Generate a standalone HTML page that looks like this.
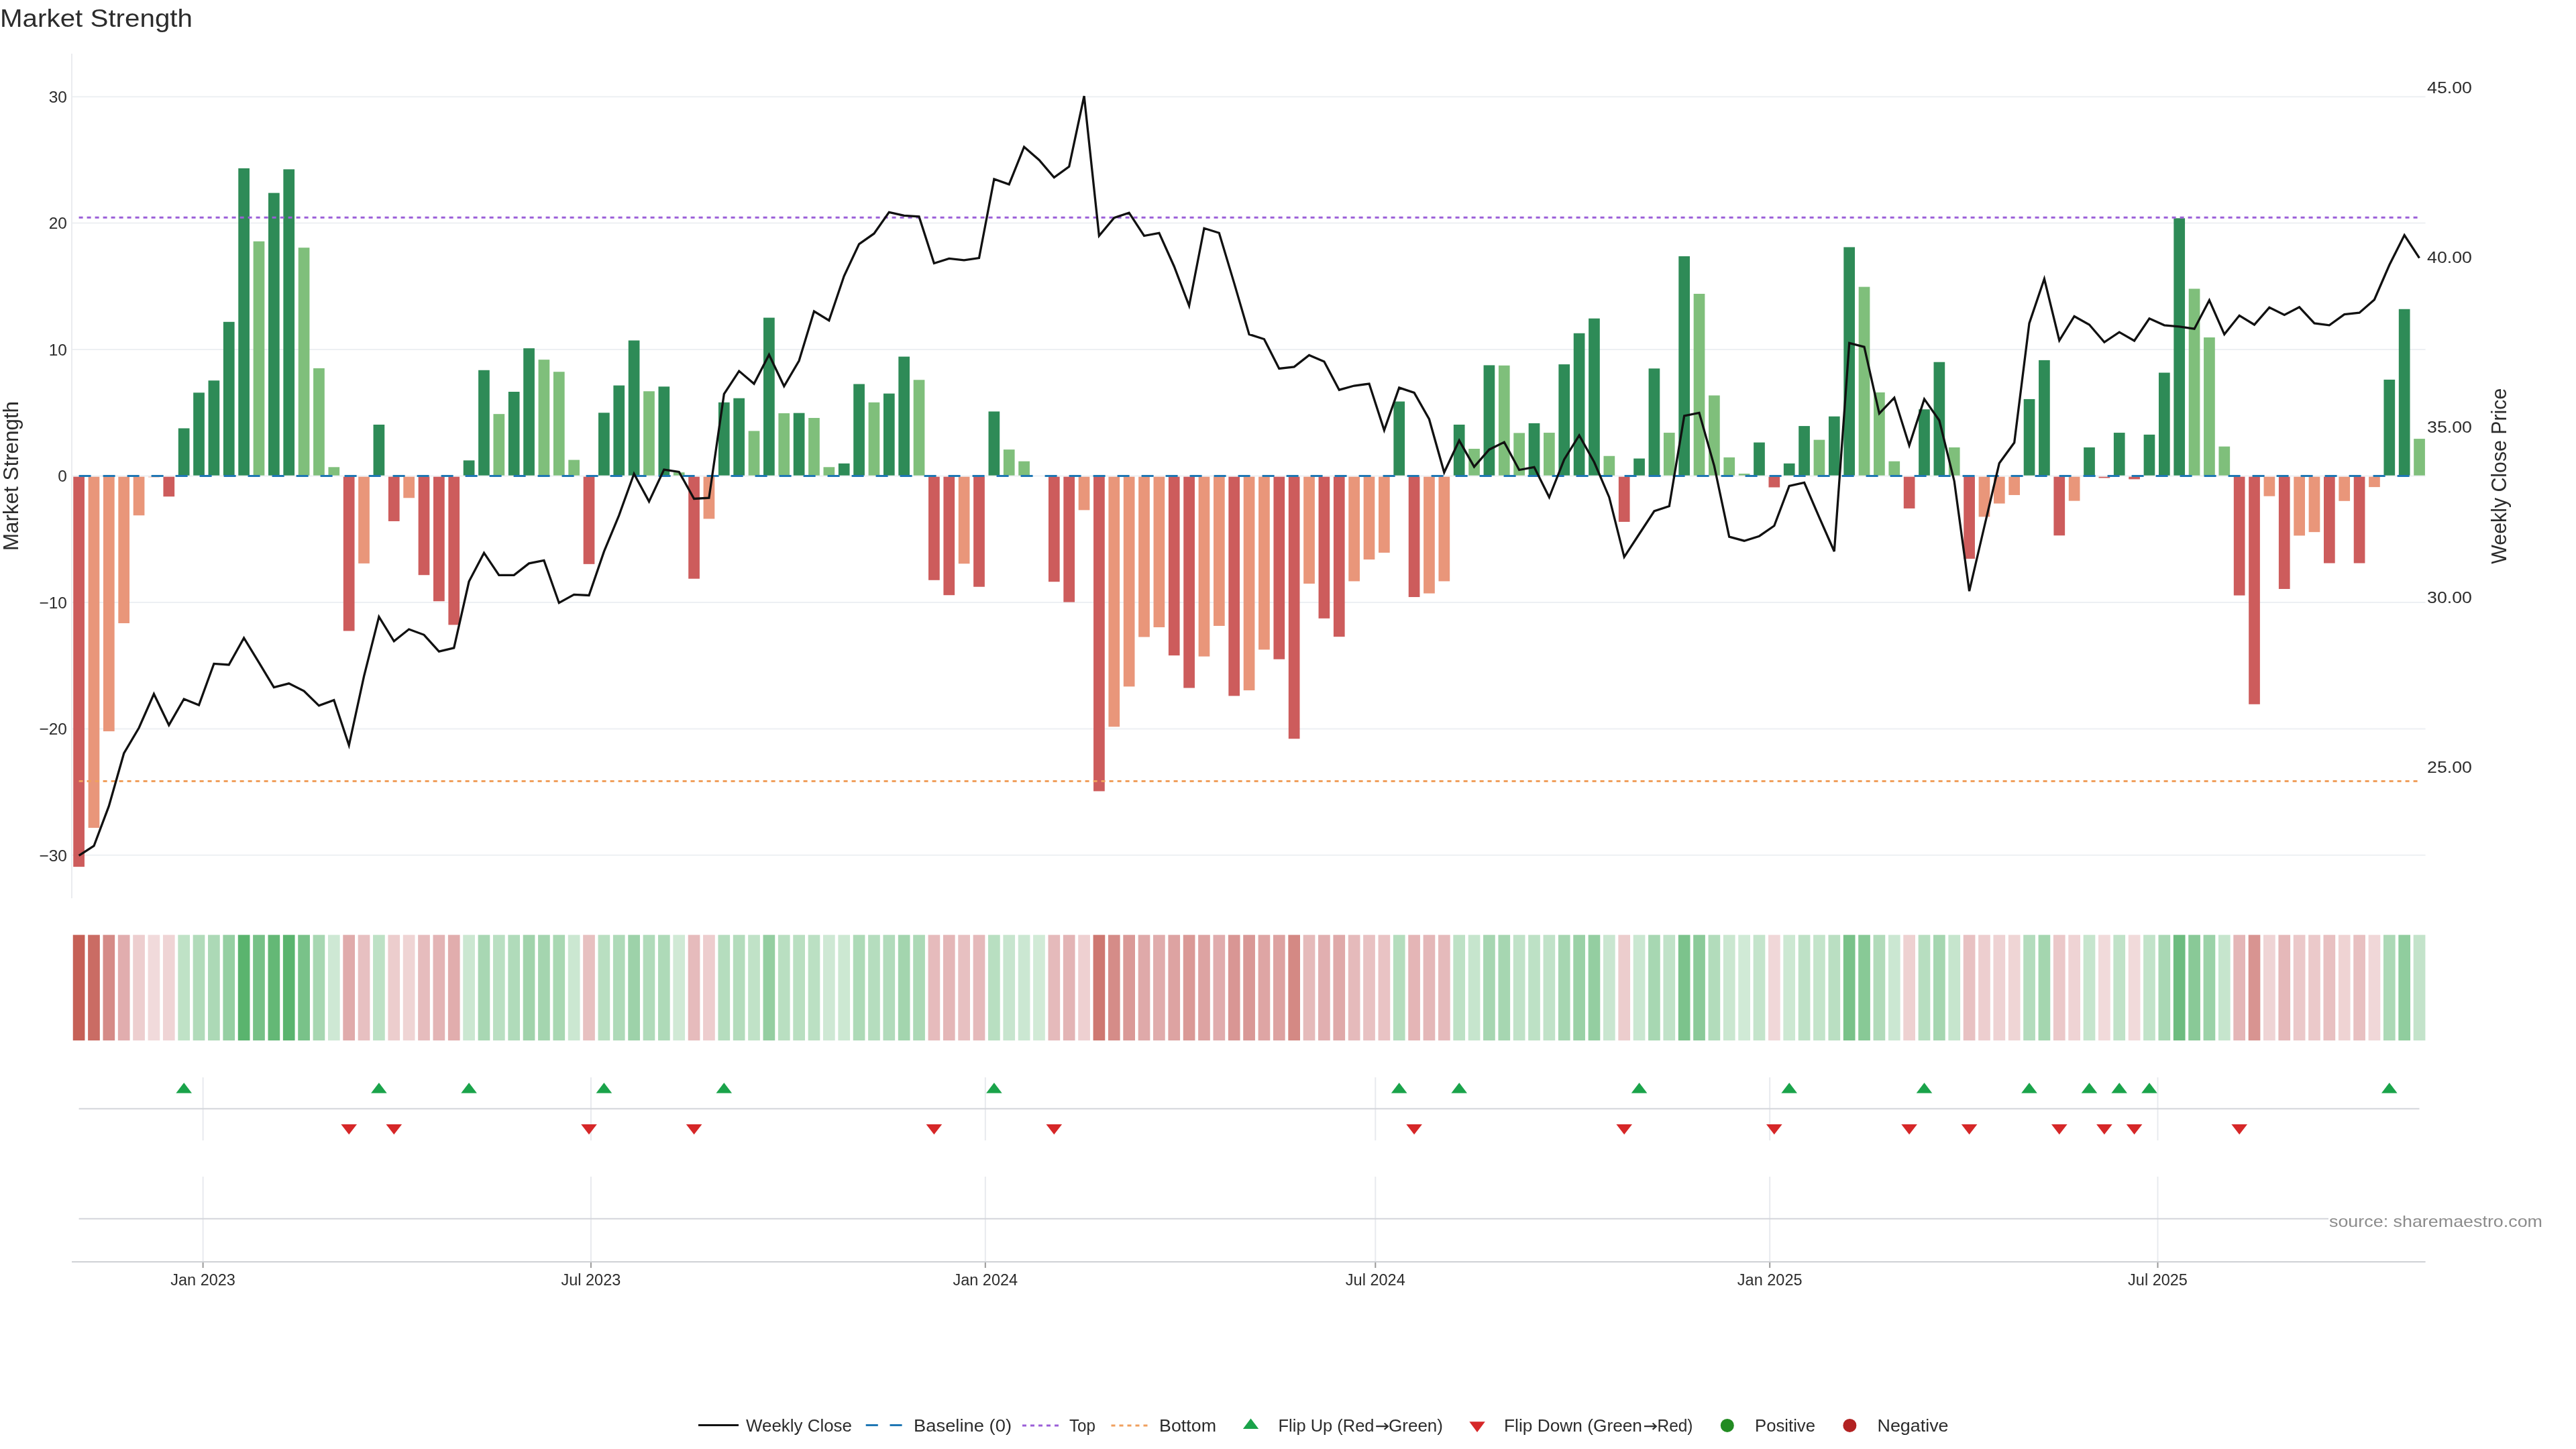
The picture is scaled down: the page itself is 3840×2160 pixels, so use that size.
<!DOCTYPE html><html><head><meta charset="utf-8"><title>Market Strength</title>
<style>html,body{margin:0;padding:0;background:#fff;width:3840px;height:2160px;overflow:hidden}svg{display:block;will-change:transform}text{font-family:"Liberation Sans",sans-serif;fill:#2c2c2c}</style></head><body>
<svg width="3840" height="2160" viewBox="0 0 3840 2160">
<rect x="0" y="0" width="3840" height="2160" fill="#fff"/>
<text x="0" y="40" font-size="37" textLength="287" lengthAdjust="spacingAndGlyphs">Market Strength</text>
<line x1="107.0" y1="144.2" x2="3615.6" y2="144.2" stroke="#edf0f3" stroke-width="2"/>
<line x1="107.0" y1="332.6" x2="3615.6" y2="332.6" stroke="#edf0f3" stroke-width="2"/>
<line x1="107.0" y1="521.1" x2="3615.6" y2="521.1" stroke="#edf0f3" stroke-width="2"/>
<line x1="107.0" y1="709.5" x2="3615.6" y2="709.5" stroke="#edf0f3" stroke-width="2"/>
<line x1="107.0" y1="897.9" x2="3615.6" y2="897.9" stroke="#edf0f3" stroke-width="2"/>
<line x1="107.0" y1="1086.4" x2="3615.6" y2="1086.4" stroke="#edf0f3" stroke-width="2"/>
<line x1="107.0" y1="1274.8" x2="3615.6" y2="1274.8" stroke="#edf0f3" stroke-width="2"/>
<line x1="107.0" y1="80.0" x2="107.0" y2="1339.0" stroke="#eaecef" stroke-width="2"/>
<text x="100" y="153.0" font-size="24.5" text-anchor="end">30</text>
<text x="100" y="341.4" font-size="24.5" text-anchor="end">20</text>
<text x="100" y="529.9" font-size="24.5" text-anchor="end">10</text>
<text x="100" y="718.3" font-size="24.5" text-anchor="end">0</text>
<text x="100" y="906.7" font-size="24.5" text-anchor="end">−10</text>
<text x="100" y="1095.2" font-size="24.5" text-anchor="end">−20</text>
<text x="100" y="1283.6" font-size="24.5" text-anchor="end">−30</text>
<text x="3618" y="139.3" font-size="24.5" textLength="67" lengthAdjust="spacingAndGlyphs">45.00</text>
<text x="3618" y="392.1" font-size="24.5" textLength="67" lengthAdjust="spacingAndGlyphs">40.00</text>
<text x="3618" y="644.7" font-size="24.5" textLength="67" lengthAdjust="spacingAndGlyphs">35.00</text>
<text x="3618" y="899.2" font-size="24.5" textLength="67" lengthAdjust="spacingAndGlyphs">30.00</text>
<text x="3618" y="1151.8" font-size="24.5" textLength="67" lengthAdjust="spacingAndGlyphs">25.00</text>
<text transform="translate(26.5,709.5) rotate(-90)" font-size="30.5" text-anchor="middle" textLength="223" lengthAdjust="spacingAndGlyphs">Market Strength</text>
<text transform="translate(3736,709.7) rotate(-90)" font-size="30.5" text-anchor="middle" textLength="262" lengthAdjust="spacingAndGlyphs">Weekly Close Price</text>
<rect x="109.25" y="710.70" width="16.7" height="581.43" fill="#cd5c5c"/>
<rect x="131.62" y="710.70" width="16.7" height="523.39" fill="#e9967a"/>
<rect x="153.98" y="710.70" width="16.7" height="379.43" fill="#e9967a"/>
<rect x="176.34" y="710.70" width="16.7" height="218.32" fill="#e9967a"/>
<rect x="198.71" y="710.70" width="16.7" height="57.59" fill="#e9967a"/>
<rect x="221.07" y="710.70" width="16.7" height="0.68" fill="#e9967a"/>
<rect x="243.44" y="710.70" width="16.7" height="29.51" fill="#cd5c5c"/>
<rect x="265.80" y="638.46" width="16.7" height="70.24" fill="#2e8b57"/>
<rect x="288.17" y="585.32" width="16.7" height="123.38" fill="#2e8b57"/>
<rect x="310.53" y="567.24" width="16.7" height="141.46" fill="#2e8b57"/>
<rect x="332.90" y="479.80" width="16.7" height="228.90" fill="#2e8b57"/>
<rect x="355.26" y="250.86" width="16.7" height="457.84" fill="#2e8b57"/>
<rect x="377.63" y="359.77" width="16.7" height="348.93" fill="#7fbf7b"/>
<rect x="400.00" y="287.61" width="16.7" height="421.09" fill="#2e8b57"/>
<rect x="422.36" y="252.37" width="16.7" height="456.33" fill="#2e8b57"/>
<rect x="444.72" y="369.20" width="16.7" height="339.50" fill="#7fbf7b"/>
<rect x="467.09" y="548.96" width="16.7" height="159.74" fill="#7fbf7b"/>
<rect x="489.45" y="696.31" width="16.7" height="12.39" fill="#7fbf7b"/>
<rect x="511.82" y="710.70" width="16.7" height="229.82" fill="#cd5c5c"/>
<rect x="534.18" y="710.70" width="16.7" height="129.19" fill="#e9967a"/>
<rect x="556.55" y="633.00" width="16.7" height="75.70" fill="#2e8b57"/>
<rect x="578.91" y="710.70" width="16.7" height="66.26" fill="#cd5c5c"/>
<rect x="601.28" y="710.70" width="16.7" height="31.59" fill="#e9967a"/>
<rect x="623.64" y="710.70" width="16.7" height="146.53" fill="#cd5c5c"/>
<rect x="646.01" y="710.70" width="16.7" height="185.53" fill="#cd5c5c"/>
<rect x="668.38" y="710.70" width="16.7" height="220.77" fill="#cd5c5c"/>
<rect x="690.74" y="686.32" width="16.7" height="22.38" fill="#2e8b57"/>
<rect x="713.10" y="551.78" width="16.7" height="156.92" fill="#2e8b57"/>
<rect x="735.47" y="617.17" width="16.7" height="91.53" fill="#7fbf7b"/>
<rect x="757.83" y="584.01" width="16.7" height="124.69" fill="#2e8b57"/>
<rect x="780.20" y="519.19" width="16.7" height="189.51" fill="#2e8b57"/>
<rect x="802.56" y="536.14" width="16.7" height="172.56" fill="#7fbf7b"/>
<rect x="824.93" y="554.23" width="16.7" height="154.47" fill="#7fbf7b"/>
<rect x="847.29" y="685.57" width="16.7" height="23.13" fill="#7fbf7b"/>
<rect x="869.66" y="710.70" width="16.7" height="130.14" fill="#cd5c5c"/>
<rect x="892.02" y="615.28" width="16.7" height="93.42" fill="#2e8b57"/>
<rect x="914.39" y="574.58" width="16.7" height="134.12" fill="#2e8b57"/>
<rect x="936.75" y="507.50" width="16.7" height="201.20" fill="#2e8b57"/>
<rect x="959.12" y="583.25" width="16.7" height="125.45" fill="#7fbf7b"/>
<rect x="981.48" y="576.28" width="16.7" height="132.42" fill="#2e8b57"/>
<rect x="1003.85" y="704.22" width="16.7" height="4.48" fill="#7fbf7b"/>
<rect x="1026.21" y="710.70" width="16.7" height="151.99" fill="#cd5c5c"/>
<rect x="1048.58" y="710.70" width="16.7" height="62.68" fill="#e9967a"/>
<rect x="1070.94" y="599.83" width="16.7" height="108.87" fill="#2e8b57"/>
<rect x="1093.31" y="593.62" width="16.7" height="115.08" fill="#2e8b57"/>
<rect x="1115.67" y="642.42" width="16.7" height="66.28" fill="#7fbf7b"/>
<rect x="1138.04" y="473.59" width="16.7" height="235.11" fill="#2e8b57"/>
<rect x="1160.40" y="616.04" width="16.7" height="92.66" fill="#7fbf7b"/>
<rect x="1182.77" y="615.66" width="16.7" height="93.04" fill="#2e8b57"/>
<rect x="1205.13" y="623.01" width="16.7" height="85.69" fill="#7fbf7b"/>
<rect x="1227.50" y="696.31" width="16.7" height="12.39" fill="#7fbf7b"/>
<rect x="1249.87" y="690.85" width="16.7" height="17.85" fill="#2e8b57"/>
<rect x="1272.23" y="572.51" width="16.7" height="136.19" fill="#2e8b57"/>
<rect x="1294.60" y="599.83" width="16.7" height="108.87" fill="#7fbf7b"/>
<rect x="1316.96" y="586.64" width="16.7" height="122.06" fill="#2e8b57"/>
<rect x="1339.32" y="531.62" width="16.7" height="177.08" fill="#2e8b57"/>
<rect x="1361.69" y="566.29" width="16.7" height="142.41" fill="#7fbf7b"/>
<rect x="1384.05" y="710.70" width="16.7" height="154.07" fill="#cd5c5c"/>
<rect x="1406.42" y="710.70" width="16.7" height="176.49" fill="#cd5c5c"/>
<rect x="1428.78" y="710.70" width="16.7" height="129.57" fill="#e9967a"/>
<rect x="1451.15" y="710.70" width="16.7" height="164.05" fill="#cd5c5c"/>
<rect x="1473.51" y="613.40" width="16.7" height="95.30" fill="#2e8b57"/>
<rect x="1495.88" y="670.12" width="16.7" height="38.58" fill="#7fbf7b"/>
<rect x="1518.24" y="687.64" width="16.7" height="21.06" fill="#7fbf7b"/>
<rect x="1562.97" y="710.70" width="16.7" height="156.52" fill="#cd5c5c"/>
<rect x="1585.34" y="710.70" width="16.7" height="186.85" fill="#cd5c5c"/>
<rect x="1607.70" y="710.70" width="16.7" height="49.68" fill="#e9967a"/>
<rect x="1630.07" y="710.70" width="16.7" height="468.74" fill="#cd5c5c"/>
<rect x="1652.43" y="710.70" width="16.7" height="372.65" fill="#e9967a"/>
<rect x="1674.80" y="710.70" width="16.7" height="312.72" fill="#e9967a"/>
<rect x="1697.16" y="710.70" width="16.7" height="238.86" fill="#e9967a"/>
<rect x="1719.53" y="710.70" width="16.7" height="224.35" fill="#e9967a"/>
<rect x="1741.89" y="710.70" width="16.7" height="266.37" fill="#cd5c5c"/>
<rect x="1764.26" y="710.70" width="16.7" height="314.80" fill="#cd5c5c"/>
<rect x="1786.62" y="710.70" width="16.7" height="267.88" fill="#e9967a"/>
<rect x="1808.99" y="710.70" width="16.7" height="222.28" fill="#e9967a"/>
<rect x="1831.35" y="710.70" width="16.7" height="326.67" fill="#cd5c5c"/>
<rect x="1853.72" y="710.70" width="16.7" height="318.38" fill="#e9967a"/>
<rect x="1876.08" y="710.70" width="16.7" height="257.70" fill="#e9967a"/>
<rect x="1898.45" y="710.70" width="16.7" height="272.02" fill="#cd5c5c"/>
<rect x="1920.81" y="710.70" width="16.7" height="390.55" fill="#cd5c5c"/>
<rect x="1943.18" y="710.70" width="16.7" height="159.34" fill="#e9967a"/>
<rect x="1965.54" y="710.70" width="16.7" height="211.16" fill="#cd5c5c"/>
<rect x="1987.91" y="710.70" width="16.7" height="238.48" fill="#cd5c5c"/>
<rect x="2010.27" y="710.70" width="16.7" height="155.76" fill="#e9967a"/>
<rect x="2032.64" y="710.70" width="16.7" height="123.35" fill="#e9967a"/>
<rect x="2055.01" y="710.70" width="16.7" height="113.18" fill="#e9967a"/>
<rect x="2077.37" y="598.51" width="16.7" height="110.19" fill="#2e8b57"/>
<rect x="2099.74" y="710.70" width="16.7" height="179.32" fill="#cd5c5c"/>
<rect x="2122.10" y="710.70" width="16.7" height="173.85" fill="#e9967a"/>
<rect x="2144.47" y="710.70" width="16.7" height="155.76" fill="#e9967a"/>
<rect x="2166.83" y="633.00" width="16.7" height="75.70" fill="#2e8b57"/>
<rect x="2189.19" y="668.99" width="16.7" height="39.71" fill="#7fbf7b"/>
<rect x="2211.56" y="544.44" width="16.7" height="164.26" fill="#2e8b57"/>
<rect x="2233.92" y="544.81" width="16.7" height="163.89" fill="#7fbf7b"/>
<rect x="2256.29" y="645.43" width="16.7" height="63.27" fill="#7fbf7b"/>
<rect x="2278.65" y="630.92" width="16.7" height="77.78" fill="#2e8b57"/>
<rect x="2301.02" y="645.06" width="16.7" height="63.64" fill="#7fbf7b"/>
<rect x="2323.38" y="543.12" width="16.7" height="165.58" fill="#2e8b57"/>
<rect x="2345.75" y="496.76" width="16.7" height="211.94" fill="#2e8b57"/>
<rect x="2368.11" y="474.72" width="16.7" height="233.98" fill="#2e8b57"/>
<rect x="2390.48" y="679.73" width="16.7" height="28.97" fill="#7fbf7b"/>
<rect x="2412.84" y="710.70" width="16.7" height="67.20" fill="#cd5c5c"/>
<rect x="2435.21" y="683.50" width="16.7" height="25.20" fill="#2e8b57"/>
<rect x="2457.57" y="549.33" width="16.7" height="159.37" fill="#2e8b57"/>
<rect x="2479.94" y="645.06" width="16.7" height="63.64" fill="#7fbf7b"/>
<rect x="2502.30" y="382.01" width="16.7" height="326.69" fill="#2e8b57"/>
<rect x="2524.67" y="437.97" width="16.7" height="270.73" fill="#7fbf7b"/>
<rect x="2547.03" y="589.47" width="16.7" height="119.23" fill="#7fbf7b"/>
<rect x="2569.40" y="681.80" width="16.7" height="26.90" fill="#7fbf7b"/>
<rect x="2591.76" y="706.11" width="16.7" height="2.59" fill="#7fbf7b"/>
<rect x="2614.13" y="659.57" width="16.7" height="49.13" fill="#2e8b57"/>
<rect x="2636.49" y="710.70" width="16.7" height="15.76" fill="#cd5c5c"/>
<rect x="2658.86" y="690.85" width="16.7" height="17.85" fill="#2e8b57"/>
<rect x="2681.22" y="635.07" width="16.7" height="73.63" fill="#2e8b57"/>
<rect x="2703.59" y="655.61" width="16.7" height="53.09" fill="#7fbf7b"/>
<rect x="2725.95" y="620.75" width="16.7" height="87.95" fill="#2e8b57"/>
<rect x="2748.32" y="368.44" width="16.7" height="340.26" fill="#2e8b57"/>
<rect x="2770.68" y="427.61" width="16.7" height="281.09" fill="#7fbf7b"/>
<rect x="2793.05" y="584.95" width="16.7" height="123.75" fill="#7fbf7b"/>
<rect x="2815.41" y="687.64" width="16.7" height="21.06" fill="#7fbf7b"/>
<rect x="2837.78" y="710.70" width="16.7" height="47.23" fill="#cd5c5c"/>
<rect x="2860.14" y="610.20" width="16.7" height="98.50" fill="#2e8b57"/>
<rect x="2882.51" y="539.72" width="16.7" height="168.98" fill="#2e8b57"/>
<rect x="2904.88" y="666.91" width="16.7" height="41.79" fill="#7fbf7b"/>
<rect x="2927.24" y="710.70" width="16.7" height="122.22" fill="#cd5c5c"/>
<rect x="2949.61" y="710.70" width="16.7" height="59.66" fill="#e9967a"/>
<rect x="2971.97" y="710.70" width="16.7" height="39.88" fill="#e9967a"/>
<rect x="2994.33" y="710.70" width="16.7" height="27.25" fill="#e9967a"/>
<rect x="3016.70" y="594.93" width="16.7" height="113.77" fill="#2e8b57"/>
<rect x="3039.06" y="536.90" width="16.7" height="171.80" fill="#2e8b57"/>
<rect x="3061.43" y="710.70" width="16.7" height="87.55" fill="#cd5c5c"/>
<rect x="3083.79" y="710.70" width="16.7" height="35.92" fill="#e9967a"/>
<rect x="3106.16" y="666.91" width="16.7" height="41.79" fill="#2e8b57"/>
<rect x="3128.52" y="710.70" width="16.7" height="1.81" fill="#cd5c5c"/>
<rect x="3150.89" y="645.06" width="16.7" height="63.64" fill="#2e8b57"/>
<rect x="3173.25" y="710.70" width="16.7" height="3.70" fill="#cd5c5c"/>
<rect x="3195.62" y="647.88" width="16.7" height="60.82" fill="#2e8b57"/>
<rect x="3217.98" y="555.55" width="16.7" height="153.15" fill="#2e8b57"/>
<rect x="3240.35" y="325.29" width="16.7" height="383.41" fill="#2e8b57"/>
<rect x="3262.71" y="430.44" width="16.7" height="278.26" fill="#7fbf7b"/>
<rect x="3285.08" y="502.98" width="16.7" height="205.72" fill="#7fbf7b"/>
<rect x="3307.44" y="665.60" width="16.7" height="43.10" fill="#7fbf7b"/>
<rect x="3329.81" y="710.70" width="16.7" height="176.87" fill="#cd5c5c"/>
<rect x="3352.17" y="710.70" width="16.7" height="339.10" fill="#cd5c5c"/>
<rect x="3374.54" y="710.70" width="16.7" height="28.95" fill="#e9967a"/>
<rect x="3396.90" y="710.70" width="16.7" height="167.26" fill="#cd5c5c"/>
<rect x="3419.27" y="710.70" width="16.7" height="87.74" fill="#e9967a"/>
<rect x="3441.63" y="710.70" width="16.7" height="82.46" fill="#e9967a"/>
<rect x="3464.00" y="710.70" width="16.7" height="128.82" fill="#cd5c5c"/>
<rect x="3486.36" y="710.70" width="16.7" height="36.11" fill="#e9967a"/>
<rect x="3508.73" y="710.70" width="16.7" height="128.82" fill="#cd5c5c"/>
<rect x="3531.09" y="710.70" width="16.7" height="15.38" fill="#e9967a"/>
<rect x="3553.46" y="565.92" width="16.7" height="142.78" fill="#2e8b57"/>
<rect x="3575.82" y="460.77" width="16.7" height="247.93" fill="#2e8b57"/>
<rect x="3598.19" y="654.10" width="16.7" height="54.60" fill="#7fbf7b"/>
<line x1="117.6" y1="709.5" x2="3606.5" y2="709.5" stroke="#1f77b4" stroke-width="3" stroke-dasharray="18,18"/>
<line x1="117.6" y1="324.3" x2="3606.5" y2="324.3" stroke="#9b5fd8" stroke-width="3" stroke-dasharray="6,6"/>
<line x1="117.6" y1="1164.5" x2="3606.5" y2="1164.5" stroke="#f0a05e" stroke-width="3" stroke-dasharray="6,6"/>
<polyline points="117.6,1275.4 140.0,1261.0 162.3,1201.7 184.7,1123.0 207.1,1085.0 229.4,1034.5 251.8,1080.9 274.2,1042.0 296.5,1051.0 318.9,989.4 341.2,991.0 363.6,950.9 386.0,987.7 408.3,1024.6 430.7,1018.8 453.1,1030.0 475.4,1051.9 497.8,1043.6 520.2,1111.0 542.5,1008.4 564.9,919.4 587.3,955.8 609.6,938.0 632.0,946.3 654.4,971.2 676.7,965.8 699.1,866.8 721.5,824.2 743.8,857.3 766.2,857.3 788.5,839.9 810.9,835.4 833.3,898.7 855.6,886.3 878.0,887.5 900.4,822.1 922.7,768.3 945.1,706.2 967.5,747.6 989.8,700.0 1012.2,703.4 1034.6,743.5 1056.9,742.2 1079.3,587.4 1101.7,553.1 1124.0,572.1 1146.4,528.7 1168.8,575.8 1191.1,537.8 1213.5,464.1 1235.8,477.7 1258.2,411.5 1280.6,363.9 1302.9,348.2 1325.3,316.3 1347.7,321.3 1370.0,322.9 1392.4,392.5 1414.8,385.4 1437.1,387.9 1459.5,384.6 1481.9,267.0 1504.2,274.9 1526.6,219.0 1549.0,238.5 1571.3,264.5 1593.7,248.4 1616.1,143.2 1638.4,351.5 1660.8,324.6 1683.1,317.1 1705.5,351.5 1727.9,347.3 1750.2,397.0 1772.6,455.8 1795.0,340.3 1817.3,347.3 1839.7,421.9 1862.1,498.4 1884.4,505.5 1906.8,549.4 1929.2,546.9 1951.5,529.5 1973.9,539.0 1996.3,581.2 2018.6,575.0 2041.0,572.1 2063.4,641.3 2085.7,577.9 2108.1,585.4 2130.4,624.7 2152.8,704.2 2175.2,656.6 2197.5,695.9 2219.9,670.2 2242.3,659.1 2264.6,700.5 2287.0,696.3 2309.4,741.3 2331.7,685.0 2354.1,649.0 2376.5,689.0 2398.8,741.2 2421.2,830.3 2443.6,796.0 2465.9,762.0 2488.3,754.6 2510.7,620.0 2533.0,615.5 2555.4,694.6 2577.7,800.2 2600.1,806.2 2622.5,799.2 2644.8,783.8 2667.2,724.3 2689.6,719.4 2711.9,771.2 2734.3,822.0 2756.7,511.3 2779.0,517.1 2801.4,616.4 2823.8,592.8 2846.1,664.0 2868.5,594.9 2890.9,626.8 2913.2,717.2 2935.6,881.2 2958.0,785.0 2980.3,690.5 3002.7,659.8 3025.0,481.9 3047.4,415.6 3069.8,507.5 3092.1,471.5 3114.5,484.0 3136.9,510.0 3159.2,495.1 3181.6,508.0 3204.0,474.8 3226.3,484.8 3248.7,486.9 3271.1,490.2 3293.4,447.5 3315.8,498.4 3338.2,470.3 3360.5,484.0 3382.9,458.3 3405.3,469.5 3427.6,457.9 3450.0,481.9 3472.3,484.8 3494.7,468.6 3517.1,466.2 3539.4,446.7 3561.8,395.0 3584.2,350.6 3606.5,384.6" fill="none" stroke="#111" stroke-width="3.3" stroke-linejoin="miter" stroke-miterlimit="4"/>
<rect x="108.75" y="1393.6" width="17.7" height="157.4" fill="rgb(198,96,86)"/>
<rect x="131.12" y="1393.6" width="17.7" height="157.4" fill="rgb(202,108,100)"/>
<rect x="153.48" y="1393.6" width="17.7" height="157.4" fill="rgb(213,139,135)"/>
<rect x="175.84" y="1393.6" width="17.7" height="157.4" fill="rgb(225,173,174)"/>
<rect x="198.21" y="1393.6" width="17.7" height="157.4" fill="rgb(237,206,207)"/>
<rect x="220.57" y="1393.6" width="17.7" height="157.4" fill="rgb(241,218,219)"/>
<rect x="242.94" y="1393.6" width="17.7" height="157.4" fill="rgb(239,212,213)"/>
<rect x="265.30" y="1393.6" width="17.7" height="157.4" fill="rgb(191,226,198)"/>
<rect x="287.67" y="1393.6" width="17.7" height="157.4" fill="rgb(177,219,186)"/>
<rect x="310.03" y="1393.6" width="17.7" height="157.4" fill="rgb(172,217,182)"/>
<rect x="332.40" y="1393.6" width="17.7" height="157.4" fill="rgb(149,207,162)"/>
<rect x="354.76" y="1393.6" width="17.7" height="157.4" fill="rgb(90,180,110)"/>
<rect x="377.13" y="1393.6" width="17.7" height="157.4" fill="rgb(118,193,135)"/>
<rect x="399.50" y="1393.6" width="17.7" height="157.4" fill="rgb(100,184,118)"/>
<rect x="421.86" y="1393.6" width="17.7" height="157.4" fill="rgb(90,180,110)"/>
<rect x="444.22" y="1393.6" width="17.7" height="157.4" fill="rgb(121,194,137)"/>
<rect x="466.59" y="1393.6" width="17.7" height="157.4" fill="rgb(167,215,178)"/>
<rect x="488.95" y="1393.6" width="17.7" height="157.4" fill="rgb(206,232,212)"/>
<rect x="511.32" y="1393.6" width="17.7" height="157.4" fill="rgb(224,171,171)"/>
<rect x="533.68" y="1393.6" width="17.7" height="157.4" fill="rgb(231,192,193)"/>
<rect x="556.05" y="1393.6" width="17.7" height="157.4" fill="rgb(189,225,197)"/>
<rect x="578.41" y="1393.6" width="17.7" height="157.4" fill="rgb(236,205,205)"/>
<rect x="600.78" y="1393.6" width="17.7" height="157.4" fill="rgb(239,212,212)"/>
<rect x="623.14" y="1393.6" width="17.7" height="157.4" fill="rgb(230,188,189)"/>
<rect x="645.51" y="1393.6" width="17.7" height="157.4" fill="rgb(227,180,181)"/>
<rect x="667.88" y="1393.6" width="17.7" height="157.4" fill="rgb(225,173,173)"/>
<rect x="690.24" y="1393.6" width="17.7" height="157.4" fill="rgb(203,231,209)"/>
<rect x="712.60" y="1393.6" width="17.7" height="157.4" fill="rgb(168,215,179)"/>
<rect x="734.97" y="1393.6" width="17.7" height="157.4" fill="rgb(185,223,194)"/>
<rect x="757.33" y="1393.6" width="17.7" height="157.4" fill="rgb(176,219,186)"/>
<rect x="779.70" y="1393.6" width="17.7" height="157.4" fill="rgb(160,211,171)"/>
<rect x="802.06" y="1393.6" width="17.7" height="157.4" fill="rgb(164,213,175)"/>
<rect x="824.43" y="1393.6" width="17.7" height="157.4" fill="rgb(169,216,179)"/>
<rect x="846.79" y="1393.6" width="17.7" height="157.4" fill="rgb(203,231,209)"/>
<rect x="869.16" y="1393.6" width="17.7" height="157.4" fill="rgb(231,192,192)"/>
<rect x="891.52" y="1393.6" width="17.7" height="157.4" fill="rgb(185,223,193)"/>
<rect x="913.89" y="1393.6" width="17.7" height="157.4" fill="rgb(174,218,184)"/>
<rect x="936.25" y="1393.6" width="17.7" height="157.4" fill="rgb(157,210,169)"/>
<rect x="958.62" y="1393.6" width="17.7" height="157.4" fill="rgb(176,219,186)"/>
<rect x="980.98" y="1393.6" width="17.7" height="157.4" fill="rgb(174,218,184)"/>
<rect x="1003.35" y="1393.6" width="17.7" height="157.4" fill="rgb(208,233,213)"/>
<rect x="1025.71" y="1393.6" width="17.7" height="157.4" fill="rgb(230,187,188)"/>
<rect x="1048.08" y="1393.6" width="17.7" height="157.4" fill="rgb(237,205,206)"/>
<rect x="1070.44" y="1393.6" width="17.7" height="157.4" fill="rgb(181,221,190)"/>
<rect x="1092.81" y="1393.6" width="17.7" height="157.4" fill="rgb(179,220,188)"/>
<rect x="1115.17" y="1393.6" width="17.7" height="157.4" fill="rgb(192,226,199)"/>
<rect x="1137.54" y="1393.6" width="17.7" height="157.4" fill="rgb(148,206,161)"/>
<rect x="1159.90" y="1393.6" width="17.7" height="157.4" fill="rgb(185,223,193)"/>
<rect x="1182.27" y="1393.6" width="17.7" height="157.4" fill="rgb(185,223,193)"/>
<rect x="1204.63" y="1393.6" width="17.7" height="157.4" fill="rgb(187,224,195)"/>
<rect x="1227.00" y="1393.6" width="17.7" height="157.4" fill="rgb(206,232,212)"/>
<rect x="1249.37" y="1393.6" width="17.7" height="157.4" fill="rgb(204,232,210)"/>
<rect x="1271.73" y="1393.6" width="17.7" height="157.4" fill="rgb(173,218,183)"/>
<rect x="1294.10" y="1393.6" width="17.7" height="157.4" fill="rgb(181,221,190)"/>
<rect x="1316.46" y="1393.6" width="17.7" height="157.4" fill="rgb(177,219,187)"/>
<rect x="1338.82" y="1393.6" width="17.7" height="157.4" fill="rgb(163,213,174)"/>
<rect x="1361.19" y="1393.6" width="17.7" height="157.4" fill="rgb(172,217,182)"/>
<rect x="1383.55" y="1393.6" width="17.7" height="157.4" fill="rgb(230,187,188)"/>
<rect x="1405.92" y="1393.6" width="17.7" height="157.4" fill="rgb(228,182,183)"/>
<rect x="1428.28" y="1393.6" width="17.7" height="157.4" fill="rgb(231,192,193)"/>
<rect x="1450.65" y="1393.6" width="17.7" height="157.4" fill="rgb(229,185,186)"/>
<rect x="1473.01" y="1393.6" width="17.7" height="157.4" fill="rgb(184,223,193)"/>
<rect x="1495.38" y="1393.6" width="17.7" height="157.4" fill="rgb(199,229,206)"/>
<rect x="1517.74" y="1393.6" width="17.7" height="157.4" fill="rgb(203,231,210)"/>
<rect x="1540.11" y="1393.6" width="17.7" height="157.4" fill="rgb(209,234,214)"/>
<rect x="1562.47" y="1393.6" width="17.7" height="157.4" fill="rgb(229,186,187)"/>
<rect x="1584.84" y="1393.6" width="17.7" height="157.4" fill="rgb(227,180,181)"/>
<rect x="1607.20" y="1393.6" width="17.7" height="157.4" fill="rgb(238,208,209)"/>
<rect x="1629.57" y="1393.6" width="17.7" height="157.4" fill="rgb(206,120,113)"/>
<rect x="1651.93" y="1393.6" width="17.7" height="157.4" fill="rgb(213,140,136)"/>
<rect x="1674.30" y="1393.6" width="17.7" height="157.4" fill="rgb(218,153,151)"/>
<rect x="1696.66" y="1393.6" width="17.7" height="157.4" fill="rgb(223,169,169)"/>
<rect x="1719.03" y="1393.6" width="17.7" height="157.4" fill="rgb(224,172,172)"/>
<rect x="1741.39" y="1393.6" width="17.7" height="157.4" fill="rgb(221,163,162)"/>
<rect x="1763.76" y="1393.6" width="17.7" height="157.4" fill="rgb(218,153,150)"/>
<rect x="1786.12" y="1393.6" width="17.7" height="157.4" fill="rgb(221,163,162)"/>
<rect x="1808.49" y="1393.6" width="17.7" height="157.4" fill="rgb(224,172,173)"/>
<rect x="1830.85" y="1393.6" width="17.7" height="157.4" fill="rgb(217,150,148)"/>
<rect x="1853.22" y="1393.6" width="17.7" height="157.4" fill="rgb(217,152,150)"/>
<rect x="1875.58" y="1393.6" width="17.7" height="157.4" fill="rgb(222,165,164)"/>
<rect x="1897.95" y="1393.6" width="17.7" height="157.4" fill="rgb(221,162,161)"/>
<rect x="1920.31" y="1393.6" width="17.7" height="157.4" fill="rgb(212,137,132)"/>
<rect x="1942.68" y="1393.6" width="17.7" height="157.4" fill="rgb(229,186,186)"/>
<rect x="1965.04" y="1393.6" width="17.7" height="157.4" fill="rgb(225,175,176)"/>
<rect x="1987.41" y="1393.6" width="17.7" height="157.4" fill="rgb(223,169,169)"/>
<rect x="2009.77" y="1393.6" width="17.7" height="157.4" fill="rgb(229,186,187)"/>
<rect x="2032.14" y="1393.6" width="17.7" height="157.4" fill="rgb(232,193,194)"/>
<rect x="2054.51" y="1393.6" width="17.7" height="157.4" fill="rgb(233,195,196)"/>
<rect x="2076.87" y="1393.6" width="17.7" height="157.4" fill="rgb(180,221,189)"/>
<rect x="2099.24" y="1393.6" width="17.7" height="157.4" fill="rgb(228,181,182)"/>
<rect x="2121.60" y="1393.6" width="17.7" height="157.4" fill="rgb(228,183,184)"/>
<rect x="2143.97" y="1393.6" width="17.7" height="157.4" fill="rgb(229,186,187)"/>
<rect x="2166.33" y="1393.6" width="17.7" height="157.4" fill="rgb(189,225,197)"/>
<rect x="2188.69" y="1393.6" width="17.7" height="157.4" fill="rgb(198,229,205)"/>
<rect x="2211.06" y="1393.6" width="17.7" height="157.4" fill="rgb(166,214,177)"/>
<rect x="2233.42" y="1393.6" width="17.7" height="157.4" fill="rgb(166,214,177)"/>
<rect x="2255.79" y="1393.6" width="17.7" height="157.4" fill="rgb(192,226,200)"/>
<rect x="2278.15" y="1393.6" width="17.7" height="157.4" fill="rgb(189,225,197)"/>
<rect x="2300.52" y="1393.6" width="17.7" height="157.4" fill="rgb(192,226,200)"/>
<rect x="2322.88" y="1393.6" width="17.7" height="157.4" fill="rgb(166,214,177)"/>
<rect x="2345.25" y="1393.6" width="17.7" height="157.4" fill="rgb(154,209,166)"/>
<rect x="2367.61" y="1393.6" width="17.7" height="157.4" fill="rgb(148,206,161)"/>
<rect x="2389.98" y="1393.6" width="17.7" height="157.4" fill="rgb(201,230,208)"/>
<rect x="2412.34" y="1393.6" width="17.7" height="157.4" fill="rgb(236,205,205)"/>
<rect x="2434.71" y="1393.6" width="17.7" height="157.4" fill="rgb(202,231,209)"/>
<rect x="2457.07" y="1393.6" width="17.7" height="157.4" fill="rgb(167,215,178)"/>
<rect x="2479.44" y="1393.6" width="17.7" height="157.4" fill="rgb(192,226,200)"/>
<rect x="2501.80" y="1393.6" width="17.7" height="157.4" fill="rgb(124,195,140)"/>
<rect x="2524.17" y="1393.6" width="17.7" height="157.4" fill="rgb(139,202,153)"/>
<rect x="2546.53" y="1393.6" width="17.7" height="157.4" fill="rgb(178,220,187)"/>
<rect x="2568.90" y="1393.6" width="17.7" height="157.4" fill="rgb(202,231,208)"/>
<rect x="2591.26" y="1393.6" width="17.7" height="157.4" fill="rgb(208,234,214)"/>
<rect x="2613.63" y="1393.6" width="17.7" height="157.4" fill="rgb(196,228,203)"/>
<rect x="2635.99" y="1393.6" width="17.7" height="157.4" fill="rgb(240,215,216)"/>
<rect x="2658.36" y="1393.6" width="17.7" height="157.4" fill="rgb(204,232,210)"/>
<rect x="2680.72" y="1393.6" width="17.7" height="157.4" fill="rgb(190,225,198)"/>
<rect x="2703.09" y="1393.6" width="17.7" height="157.4" fill="rgb(195,228,202)"/>
<rect x="2725.45" y="1393.6" width="17.7" height="157.4" fill="rgb(186,223,194)"/>
<rect x="2747.82" y="1393.6" width="17.7" height="157.4" fill="rgb(121,194,137)"/>
<rect x="2770.18" y="1393.6" width="17.7" height="157.4" fill="rgb(136,201,150)"/>
<rect x="2792.55" y="1393.6" width="17.7" height="157.4" fill="rgb(177,219,186)"/>
<rect x="2814.91" y="1393.6" width="17.7" height="157.4" fill="rgb(203,231,210)"/>
<rect x="2837.28" y="1393.6" width="17.7" height="157.4" fill="rgb(238,209,209)"/>
<rect x="2859.64" y="1393.6" width="17.7" height="157.4" fill="rgb(183,222,192)"/>
<rect x="2882.01" y="1393.6" width="17.7" height="157.4" fill="rgb(165,214,176)"/>
<rect x="2904.38" y="1393.6" width="17.7" height="157.4" fill="rgb(198,229,205)"/>
<rect x="2926.74" y="1393.6" width="17.7" height="157.4" fill="rgb(232,193,194)"/>
<rect x="2949.11" y="1393.6" width="17.7" height="157.4" fill="rgb(237,206,207)"/>
<rect x="2971.47" y="1393.6" width="17.7" height="157.4" fill="rgb(238,210,211)"/>
<rect x="2993.83" y="1393.6" width="17.7" height="157.4" fill="rgb(239,213,213)"/>
<rect x="3016.20" y="1393.6" width="17.7" height="157.4" fill="rgb(179,220,189)"/>
<rect x="3038.56" y="1393.6" width="17.7" height="157.4" fill="rgb(164,214,175)"/>
<rect x="3060.93" y="1393.6" width="17.7" height="157.4" fill="rgb(235,200,201)"/>
<rect x="3083.29" y="1393.6" width="17.7" height="157.4" fill="rgb(239,211,212)"/>
<rect x="3105.66" y="1393.6" width="17.7" height="157.4" fill="rgb(198,229,205)"/>
<rect x="3128.02" y="1393.6" width="17.7" height="157.4" fill="rgb(241,218,218)"/>
<rect x="3150.39" y="1393.6" width="17.7" height="157.4" fill="rgb(192,226,200)"/>
<rect x="3172.75" y="1393.6" width="17.7" height="157.4" fill="rgb(241,218,218)"/>
<rect x="3195.12" y="1393.6" width="17.7" height="157.4" fill="rgb(193,227,201)"/>
<rect x="3217.48" y="1393.6" width="17.7" height="157.4" fill="rgb(169,216,180)"/>
<rect x="3239.85" y="1393.6" width="17.7" height="157.4" fill="rgb(109,188,127)"/>
<rect x="3262.21" y="1393.6" width="17.7" height="157.4" fill="rgb(137,201,151)"/>
<rect x="3284.58" y="1393.6" width="17.7" height="157.4" fill="rgb(155,210,168)"/>
<rect x="3306.94" y="1393.6" width="17.7" height="157.4" fill="rgb(198,229,205)"/>
<rect x="3329.31" y="1393.6" width="17.7" height="157.4" fill="rgb(228,182,183)"/>
<rect x="3351.67" y="1393.6" width="17.7" height="157.4" fill="rgb(216,148,145)"/>
<rect x="3374.04" y="1393.6" width="17.7" height="157.4" fill="rgb(239,212,213)"/>
<rect x="3396.40" y="1393.6" width="17.7" height="157.4" fill="rgb(229,184,185)"/>
<rect x="3418.77" y="1393.6" width="17.7" height="157.4" fill="rgb(235,200,201)"/>
<rect x="3441.13" y="1393.6" width="17.7" height="157.4" fill="rgb(235,201,202)"/>
<rect x="3463.50" y="1393.6" width="17.7" height="157.4" fill="rgb(232,192,193)"/>
<rect x="3485.86" y="1393.6" width="17.7" height="157.4" fill="rgb(239,211,211)"/>
<rect x="3508.23" y="1393.6" width="17.7" height="157.4" fill="rgb(232,192,193)"/>
<rect x="3530.59" y="1393.6" width="17.7" height="157.4" fill="rgb(240,215,216)"/>
<rect x="3552.96" y="1393.6" width="17.7" height="157.4" fill="rgb(172,217,182)"/>
<rect x="3575.32" y="1393.6" width="17.7" height="157.4" fill="rgb(144,205,158)"/>
<rect x="3597.69" y="1393.6" width="17.7" height="157.4" fill="rgb(195,227,202)"/>
<line x1="302.6" y1="1606" x2="302.6" y2="1700" stroke="#e8eaee" stroke-width="2"/>
<line x1="302.6" y1="1754" x2="302.6" y2="1881" stroke="#e8eaee" stroke-width="2"/>
<line x1="880.9" y1="1606" x2="880.9" y2="1700" stroke="#e8eaee" stroke-width="2"/>
<line x1="880.9" y1="1754" x2="880.9" y2="1881" stroke="#e8eaee" stroke-width="2"/>
<line x1="1468.8" y1="1606" x2="1468.8" y2="1700" stroke="#e8eaee" stroke-width="2"/>
<line x1="1468.8" y1="1754" x2="1468.8" y2="1881" stroke="#e8eaee" stroke-width="2"/>
<line x1="2050.3" y1="1606" x2="2050.3" y2="1700" stroke="#e8eaee" stroke-width="2"/>
<line x1="2050.3" y1="1754" x2="2050.3" y2="1881" stroke="#e8eaee" stroke-width="2"/>
<line x1="2638.2" y1="1606" x2="2638.2" y2="1700" stroke="#e8eaee" stroke-width="2"/>
<line x1="2638.2" y1="1754" x2="2638.2" y2="1881" stroke="#e8eaee" stroke-width="2"/>
<line x1="3216.5" y1="1606" x2="3216.5" y2="1700" stroke="#e8eaee" stroke-width="2"/>
<line x1="3216.5" y1="1754" x2="3216.5" y2="1881" stroke="#e8eaee" stroke-width="2"/>
<line x1="117.6" y1="1652.7" x2="3606.5" y2="1652.7" stroke="#d3d5da" stroke-width="2"/>
<line x1="117.6" y1="1816.7" x2="3606.5" y2="1816.7" stroke="#d3d5da" stroke-width="2"/>
<line x1="107.0" y1="1881" x2="3615.6" y2="1881" stroke="#cfd1d5" stroke-width="2"/>
<line x1="302.6" y1="1882" x2="302.6" y2="1890" stroke="#999" stroke-width="2"/>
<text x="302.6" y="1916" font-size="23.5" text-anchor="middle">Jan 2023</text>
<line x1="880.9" y1="1882" x2="880.9" y2="1890" stroke="#999" stroke-width="2"/>
<text x="880.9" y="1916" font-size="23.5" text-anchor="middle">Jul 2023</text>
<line x1="1468.8" y1="1882" x2="1468.8" y2="1890" stroke="#999" stroke-width="2"/>
<text x="1468.8" y="1916" font-size="23.5" text-anchor="middle">Jan 2024</text>
<line x1="2050.3" y1="1882" x2="2050.3" y2="1890" stroke="#999" stroke-width="2"/>
<text x="2050.3" y="1916" font-size="23.5" text-anchor="middle">Jul 2024</text>
<line x1="2638.2" y1="1882" x2="2638.2" y2="1890" stroke="#999" stroke-width="2"/>
<text x="2638.2" y="1916" font-size="23.5" text-anchor="middle">Jan 2025</text>
<line x1="3216.5" y1="1882" x2="3216.5" y2="1890" stroke="#999" stroke-width="2"/>
<text x="3216.5" y="1916" font-size="23.5" text-anchor="middle">Jul 2025</text>
<polygon points="262.4,1629.5 286.0,1629.5 274.2,1614" fill="#1aa34a"/>
<polygon points="508.4,1676 532.0,1676 520.2,1691.3" fill="#d62728"/>
<polygon points="553.1,1629.5 576.7,1629.5 564.9,1614" fill="#1aa34a"/>
<polygon points="575.5,1676 599.1,1676 587.3,1691.3" fill="#d62728"/>
<polygon points="687.3,1629.5 710.9,1629.5 699.1,1614" fill="#1aa34a"/>
<polygon points="866.2,1676 889.8,1676 878.0,1691.3" fill="#d62728"/>
<polygon points="888.6,1629.5 912.2,1629.5 900.4,1614" fill="#1aa34a"/>
<polygon points="1022.8,1676 1046.4,1676 1034.6,1691.3" fill="#d62728"/>
<polygon points="1067.5,1629.5 1091.1,1629.5 1079.3,1614" fill="#1aa34a"/>
<polygon points="1380.6,1676 1404.2,1676 1392.4,1691.3" fill="#d62728"/>
<polygon points="1470.1,1629.5 1493.7,1629.5 1481.9,1614" fill="#1aa34a"/>
<polygon points="1559.5,1676 1583.1,1676 1571.3,1691.3" fill="#d62728"/>
<polygon points="2073.9,1629.5 2097.5,1629.5 2085.7,1614" fill="#1aa34a"/>
<polygon points="2096.3,1676 2119.9,1676 2108.1,1691.3" fill="#d62728"/>
<polygon points="2163.4,1629.5 2187.0,1629.5 2175.2,1614" fill="#1aa34a"/>
<polygon points="2409.4,1676 2433.0,1676 2421.2,1691.3" fill="#d62728"/>
<polygon points="2431.8,1629.5 2455.4,1629.5 2443.6,1614" fill="#1aa34a"/>
<polygon points="2633.0,1676 2656.6,1676 2644.8,1691.3" fill="#d62728"/>
<polygon points="2655.4,1629.5 2679.0,1629.5 2667.2,1614" fill="#1aa34a"/>
<polygon points="2834.3,1676 2857.9,1676 2846.1,1691.3" fill="#d62728"/>
<polygon points="2856.7,1629.5 2880.3,1629.5 2868.5,1614" fill="#1aa34a"/>
<polygon points="2923.8,1676 2947.4,1676 2935.6,1691.3" fill="#d62728"/>
<polygon points="3013.2,1629.5 3036.8,1629.5 3025.0,1614" fill="#1aa34a"/>
<polygon points="3058.0,1676 3081.6,1676 3069.8,1691.3" fill="#d62728"/>
<polygon points="3102.7,1629.5 3126.3,1629.5 3114.5,1614" fill="#1aa34a"/>
<polygon points="3125.1,1676 3148.7,1676 3136.9,1691.3" fill="#d62728"/>
<polygon points="3147.4,1629.5 3171.0,1629.5 3159.2,1614" fill="#1aa34a"/>
<polygon points="3169.8,1676 3193.4,1676 3181.6,1691.3" fill="#d62728"/>
<polygon points="3192.2,1629.5 3215.8,1629.5 3204.0,1614" fill="#1aa34a"/>
<polygon points="3326.4,1676 3350.0,1676 3338.2,1691.3" fill="#d62728"/>
<polygon points="3550.0,1629.5 3573.6,1629.5 3561.8,1614" fill="#1aa34a"/>
<rect x="3471" y="1800" width="325" height="36" fill="#fff"/>
<text x="3472" y="1829" font-size="24" fill="#8c8c8c" style="fill:#8c8c8c" textLength="318" lengthAdjust="spacingAndGlyphs">source: sharemaestro.com</text>
<line x1="1041" y1="2124.5" x2="1101" y2="2124.5" stroke="#111" stroke-width="3"/>
<text x="1112" y="2133.5" font-size="25" textLength="158" lengthAdjust="spacingAndGlyphs">Weekly Close</text>
<line x1="1290.7" y1="2124.5" x2="1308.8" y2="2124.5" stroke="#1f77b4" stroke-width="3"/>
<line x1="1326.5" y1="2124.5" x2="1344.6" y2="2124.5" stroke="#1f77b4" stroke-width="3"/>
<text x="1362" y="2133.5" font-size="25" textLength="146" lengthAdjust="spacingAndGlyphs">Baseline (0)</text>
<line x1="1524" y1="2125" x2="1578" y2="2125" stroke="#9b5fd8" stroke-width="3" stroke-dasharray="6,6"/>
<text x="1594" y="2133.5" font-size="25" textLength="39" lengthAdjust="spacingAndGlyphs">Top</text>
<line x1="1656.5" y1="2125" x2="1710.8" y2="2125" stroke="#f0a05e" stroke-width="3" stroke-dasharray="6,6"/>
<text x="1728" y="2133.5" font-size="25" textLength="85" lengthAdjust="spacingAndGlyphs">Bottom</text>
<polygon points="1852.9,2130 1876.2,2130 1864.5,2114.5" fill="#1aa34a"/>
<text x="1905.5" y="2133.5" font-size="25" textLength="143" lengthAdjust="spacingAndGlyphs">Flip Up (Red</text>
<path d="M2051.2,2126.2 L2068.1,2126.2 M2063.7000000000003,2121.5 L2068.9,2126.2 L2063.7000000000003,2130.8999999999996" fill="none" stroke="#2c2c2c" stroke-width="2.2" stroke-linecap="butt" stroke-linejoin="miter"/>
<text x="2070" y="2133.5" font-size="25" textLength="81" lengthAdjust="spacingAndGlyphs">Green)</text>
<polygon points="2190.3,2119.3 2213.8,2119.3 2202,2135" fill="#d62728"/>
<text x="2242" y="2133.5" font-size="25" textLength="206" lengthAdjust="spacingAndGlyphs">Flip Down (Green</text>
<path d="M2451,2126.2 L2468.0,2126.2 M2463.6000000000004,2121.5 L2468.8,2126.2 L2463.6000000000004,2130.8999999999996" fill="none" stroke="#2c2c2c" stroke-width="2.2" stroke-linecap="butt" stroke-linejoin="miter"/>
<text x="2470.5" y="2133.5" font-size="25" textLength="53" lengthAdjust="spacingAndGlyphs">Red)</text>
<circle cx="2574.8" cy="2124.9" r="10" fill="#228b22"/>
<text x="2616" y="2133.5" font-size="25" textLength="90" lengthAdjust="spacingAndGlyphs">Positive</text>
<circle cx="2757.4" cy="2124.9" r="10" fill="#b22222"/>
<text x="2798.5" y="2133.5" font-size="25" textLength="106" lengthAdjust="spacingAndGlyphs">Negative</text>
</svg></body></html>
